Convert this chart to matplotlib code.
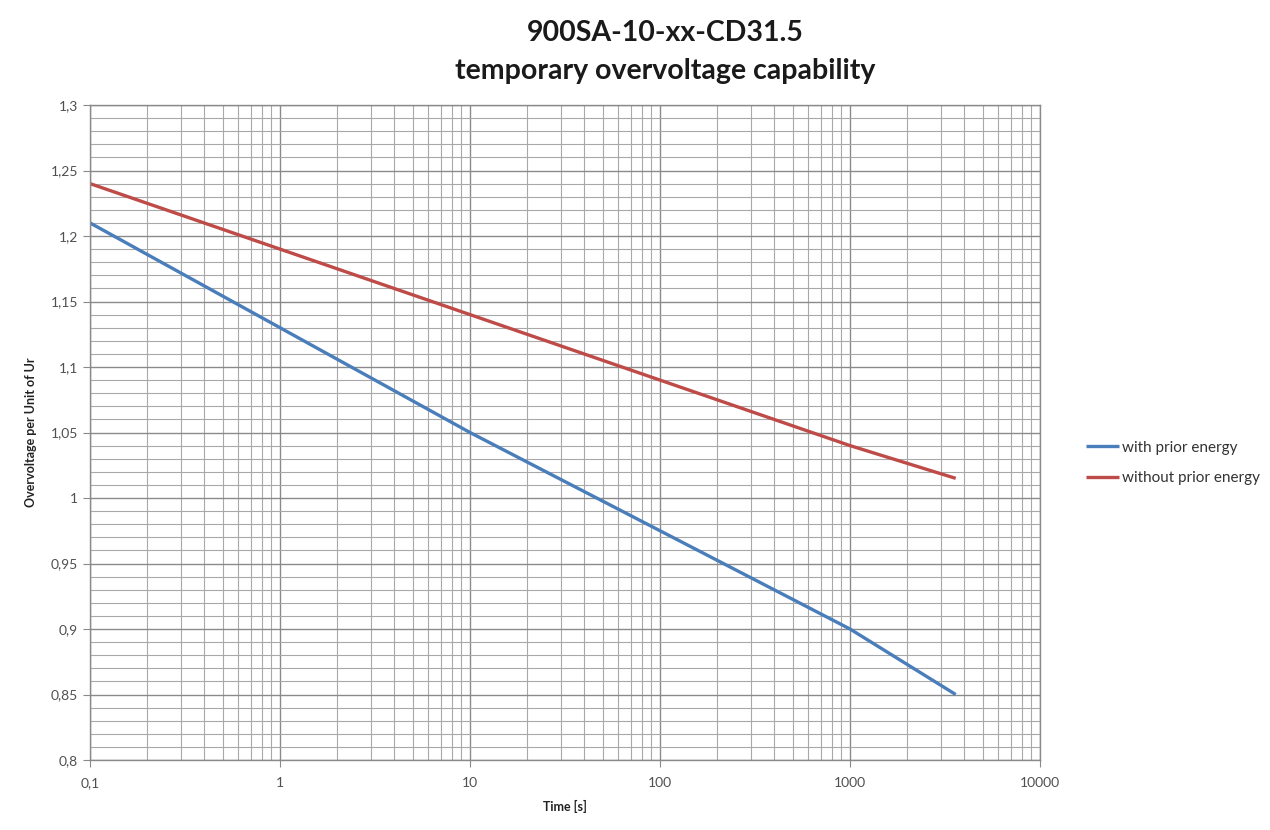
import matplotlib
matplotlib.use("Agg")
import matplotlib.pyplot as plt
from matplotlib.ticker import FixedLocator, FixedFormatter, LogLocator, MultipleLocator, NullFormatter

plt.rcParams['font.family'] = ['Lato', 'DejaVu Sans']

title = "900SA-10-xx-CD31.5\ntemporary overvoltage capability"
time_s = [0.1, 1, 10, 100, 1000, 3600]
with_prior = [1.21, 1.13, 1.05, 0.975, 0.90, 0.85]
without_prior = [1.24, 1.19, 1.14, 1.09, 1.04, 1.015]
series_names = ["with prior energy", "without prior energy"]

x_ticks = [0.1, 1, 10, 100, 1000, 10000]
x_tick_labels = ["0,1", "1", "10", "100", "1000", "10000"]
y_ticks = [0.8, 0.85, 0.9, 0.95, 1.0, 1.05, 1.1, 1.15, 1.2, 1.25, 1.3]
y_tick_labels = ["0,8", "0,85", "0,9", "0,95", "1", "1,05", "1,1", "1,15", "1,2", "1,25", "1,3"]

fig = plt.figure(figsize=(12.7, 8.3), dpi=100)
ax = fig.add_axes([90/1270, 1-760/830, (1040-90)/1270, (760-105)/830])

ax.plot(time_s, with_prior, color="#4A7EBB", lw=2.4, label=series_names[0], solid_capstyle="butt")
ax.plot(time_s, without_prior, color="#BE4B48", lw=2.4, label=series_names[1], solid_capstyle="butt")

ax.set_xscale("log")
ax.set_xlim(x_ticks[0], x_ticks[-1])
ax.set_ylim(y_ticks[0], y_ticks[-1])
ax.xaxis.set_major_locator(FixedLocator(x_ticks))
ax.xaxis.set_major_formatter(FixedFormatter(x_tick_labels))
ax.xaxis.set_minor_locator(LogLocator(base=10, subs=range(2, 10), numticks=20))
ax.xaxis.set_minor_formatter(NullFormatter())
ax.yaxis.set_major_locator(FixedLocator(y_ticks))
ax.yaxis.set_major_formatter(FixedFormatter(y_tick_labels))
ax.yaxis.set_minor_locator(MultipleLocator(0.01))

ax.grid(True, which="major", color="#8a8a8a", lw=1.0)
ax.grid(True, which="minor", color="#a8a8a8", lw=0.8)
ax.set_axisbelow(True)

for s in ax.spines.values():
    s.set_color("#8a8a8a")
    s.set_linewidth(1.0)

ax.tick_params(which="major", length=5, color="#8a8a8a", labelsize=10, labelcolor="#505050", direction="out")
ax.tick_params(which="minor", length=0)
ax.tick_params(axis="x", pad=7)

ax.set_xlabel("Time [s]", fontsize=9, fontweight="bold", color="#222222", labelpad=8)
ax.set_ylabel("Overvoltage per Unit of Ur", fontsize=9, fontweight="bold", color="#222222", labelpad=10)

fig.text(0.524, 0.9373, title, ha="center", va="center", fontsize=20.5, fontweight="bold",
         color="#1a1a1a", linespacing=1.55)

leg = fig.legend(loc="center left", bbox_to_anchor=(1072/1270, 1-463/830), frameon=False,
                 fontsize=11, handlelength=2.2, handletextpad=0.15, labelspacing=1.1)
for t in leg.get_texts():
    t.set_color("#333333")

fig.savefig("out.png", dpi=100)
